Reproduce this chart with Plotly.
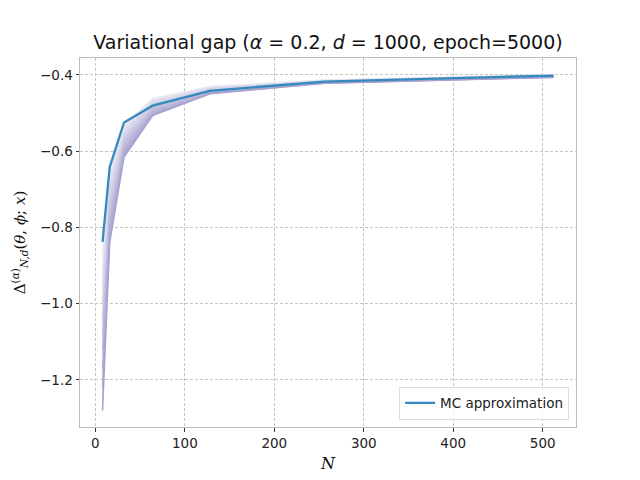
import plotly.graph_objects as go

# ---- data ----
N = [8, 16, 32, 64, 128, 256, 512]
mc_approx = [-0.838, -0.642, -0.525, -0.481, -0.442, -0.418, -0.402]

# family of bound curves (lightest/top -> darkest/bottom)
band_0 = [-0.87, -0.655, -0.532, -0.462, -0.431, -0.414, -0.400]
band_1 = [-0.92, -0.675, -0.542, -0.467, -0.433, -0.415, -0.401]
band_2 = [-0.96, -0.695, -0.551, -0.472, -0.435, -0.416, -0.402]
band_3 = [-1.00, -0.715, -0.560, -0.477, -0.437, -0.417, -0.402]
band_4 = [-1.04, -0.735, -0.569, -0.482, -0.440, -0.418, -0.403]
band_5 = [-1.08, -0.755, -0.578, -0.487, -0.442, -0.419, -0.404]
band_6 = [-1.12, -0.775, -0.588, -0.493, -0.445, -0.420, -0.405]
band_7 = [-1.17, -0.795, -0.598, -0.499, -0.447, -0.421, -0.406]
band_8 = [-1.22, -0.818, -0.607, -0.504, -0.449, -0.422, -0.406]
band_9 = [-1.28, -0.840, -0.616, -0.507, -0.450, -0.422, -0.407]
bands = [band_0, band_1, band_2, band_3, band_4, band_5, band_6, band_7, band_8, band_9]

x_ticks = [0, 100, 200, 300, 400, 500]
y_ticks = [-1.2, -1.0, -0.8, -0.6, -0.4]

# ---- styles ----
def lerp_color(c1, c2, t):
    return "rgb(%d,%d,%d)" % tuple(round(a + (b - a) * t) for a, b in zip(c1, c2))

light = (236, 234, 244)
dark = (166, 162, 207)

fig = go.Figure()
n = len(bands)
for i, b in enumerate(bands):
    col = lerp_color(light, dark, i / (n - 1))
    fig.add_trace(go.Scatter(
        x=N, y=b, mode="lines",
        line=dict(color=col, width=1.5),
        fill=None if i == 0 else "tonexty",
        fillcolor=col,
        showlegend=False, hoverinfo="skip",
    ))

fig.add_trace(go.Scatter(
    x=N, y=mc_approx, mode="lines", name="MC approximation",
    line=dict(color="#348ABD", width=2.3),
))

font_family = "DejaVu Sans, sans-serif"
axis_common = dict(
    showline=True, linecolor="#bcbcbc", linewidth=1, mirror=True,
    showgrid=True, gridcolor="#c4c4c4", griddash="3px,2px", gridwidth=0.8,
    ticks="outside", ticklen=3.5, tickwidth=1, tickcolor="#333333",
    tickfont=dict(size=13.5, color="#222222", family=font_family),
    zeroline=False,
)

fig.update_layout(
    width=640, height=480,
    paper_bgcolor="white", plot_bgcolor="white",
    margin=dict(l=72, r=72, t=49.6, b=60.8),
    font=dict(family=font_family, color="#111111"),
    title=dict(
        text="Variational gap (<i>α</i> = 0.2, <i>d</i> = 1000, epoch=5000)",
        x=320 / 640, xref="container", xanchor="center",
        y=1 - 34 / 480, yref="container", yanchor="middle",
        font=dict(size=19, family=font_family, color="#111111"),
    ),
    xaxis=dict(
        range=[-17.2, 537.2], tickvals=x_ticks,
        title=dict(text="<i>N</i>", font=dict(size=16, family="DejaVu Serif, serif"), standoff=8),
        **axis_common,
    ),
    yaxis=dict(
        range=[-1.3235, -0.356], tickvals=y_ticks, tickformat=".1f",
        title=dict(text="Δ<sup>(<i>α</i>)</sup><sub><i>N,d</i></sub>(<i>θ</i>, <i>ϕ</i>; <i>x</i>)",
                   font=dict(size=15, family="DejaVu Serif, serif"), standoff=10),
        **axis_common,
    ),
    legend=dict(
        x=0.986, y=0.02, xanchor="right", yanchor="bottom",
        bgcolor="rgba(255,255,255,0.8)", bordercolor="#dddddd", borderwidth=1,
        itemwidth=30,
        font=dict(size=13.5, family=font_family, color="#222222"),
    ),
)

fig.write_html("out.html")
